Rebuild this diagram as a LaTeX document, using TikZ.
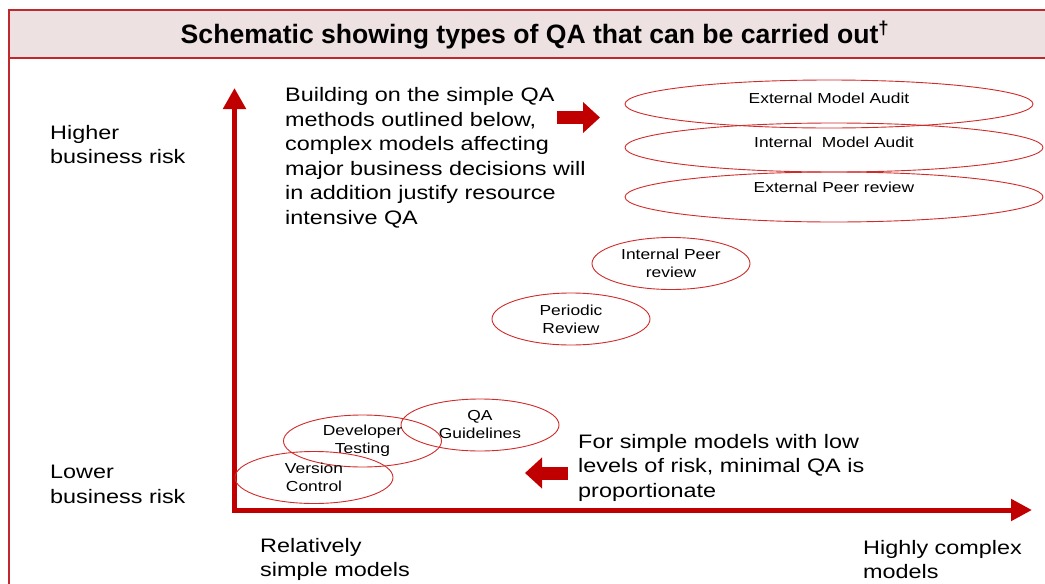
\documentclass[tikz,border=0pt]{standalone}
\usepackage{fontspec}
\setmainfont{Liberation Sans}[FakeStretch=1.2]
\newfontfamily\headfont{Liberation Sans}
\usepackage{xcolor}
\usepackage{tikz}
\usetikzlibrary{arrows.meta,shapes.geometric}

\definecolor{framered}{HTML}{C0282D}
\definecolor{bandpink}{HTML}{EEE1E2}
\definecolor{axisred}{HTML}{C00000}
\definecolor{ringred}{HTML}{D02A2A}

\begin{document}
\begin{tikzpicture}[x=1pt,y=-1pt,
  ringtext/.style={inner sep=0pt,align=center,font=\fontsize{14.5}{18}\selectfont},
  ring/.style={ellipse,draw=ringred,line width=0.9pt,minimum width=158pt,minimum height=52pt,ringtext},
  bigring/.style={ring,minimum width=418pt,minimum height=49pt},
  axis/.style={axisred,line width=5pt,line join=miter,{Triangle[length=21pt,width=22pt]}-{Triangle[length=21pt,width=21pt]}},
  blockarrow/.style={axisred,line width=13pt,-{Triangle[length=17pt,width=30pt]}},
  note/.style={align=left,anchor=west,inner sep=0pt,font=\fontsize{19.5}{24.5}\selectfont}]

\useasboundingbox (0,0) rectangle (1045,584);

% frame and title band
\draw[framered,line width=2pt] (9,10) -- (9,600);
\draw[framered,line width=2.5pt,fill=bandpink] (9,10) rectangle (1060,58);
\node (title) at (535,35) {\headfont\bfseries\fontsize{26.6}{30}\selectfont Schematic showing types of QA that can be carried out\textsuperscript{†}};

% axes
\coordinate (ytop) at (234.5,88);
\coordinate (origin) at (234.5,510);
\coordinate (xend) at (1032,510);
\draw[axis] (ytop) -- (origin) -- (xend);

\node[note] (higher) at (50,144.5) {Higher\\business risk};
\node[note] (lower) at (50,484.5) {Lower\\business risk};
\node[note] (simple) at (260,559.5) {Relatively\\simple models};
\node[note] (complex) at (863,559.5) {Highly complex\\models};

\node[note] (building) at (285,158) {Building on the simple QA\\methods outlined below,\\complex models affecting\\major business decisions will\\in addition justify resource\\intensive QA};
\node[note] (forsimple) at (578,467.5) {For simple models with low\\levels of risk, minimal QA is\\proportionate};

% block arrows
\coordinate (rtail) at (557,117.5);
\coordinate (rhead) at (600,117.5);
\coordinate (ltail) at (568,473);
\coordinate (lhead) at (525,473);
\draw[blockarrow] (rtail) -- (rhead);
\draw[blockarrow] (ltail) -- (lhead);

% QA types
\node[bigring,minimum width=408pt,minimum height=48pt,label={[ringtext,yshift=6]center:External Model Audit}] (extaudit) at (829,104) {};
\node[bigring,label={[ringtext,yshift=5]center:Internal~ Model Audit}] (intaudit) at (834,147.5) {};
\node[bigring,minimum height=50pt,label={[ringtext,yshift=10]center:External Peer review}] (extpeer) at (834,197) {};

\node[ring] (intpeer) at (671,263.5) {Internal Peer\\review};
\node[ring] (periodic) at (571,319) {Periodic\\Review};
\node[ring] (qaguide) at (480,425) {QA\\Guidelines};
\node[ring] (devtest) at (362.5,441) {Developer\\Testing};
\node[ring] (version) at (314,477.5) {Version\\Control};

\end{tikzpicture}
\end{document}
